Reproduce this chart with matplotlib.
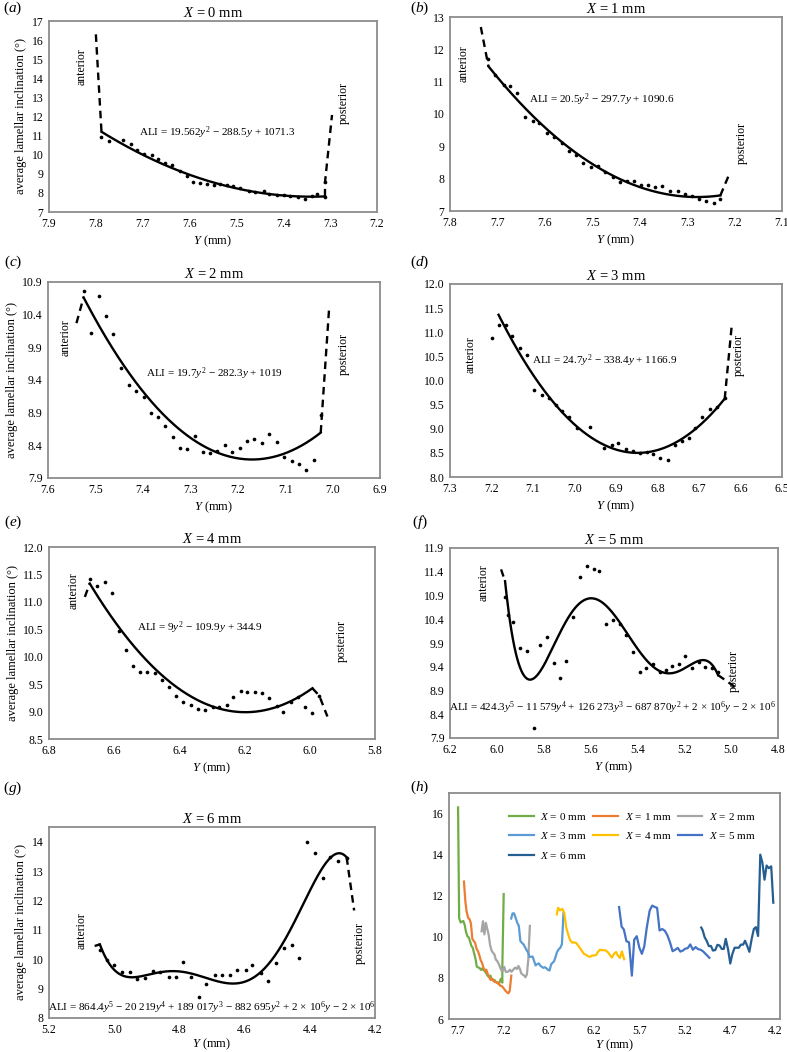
import numpy as np
import matplotlib
matplotlib.use("Agg")
import matplotlib.pyplot as plt
from matplotlib.ticker import FormatStrFormatter

plt.rcParams['font.family'] = ['Liberation Serif', 'DejaVu Serif']
plt.rcParams['mathtext.fontset'] = 'custom'
plt.rcParams['mathtext.rm'] = 'Liberation Serif'
plt.rcParams['mathtext.it'] = 'Liberation Serif:italic'

# ---- data: Y (mm) and average lamellar inclination (deg) ----
# X = 0 mm
Y0 = [7.788, 7.772, 7.742, 7.726, 7.713, 7.698, 7.681, 7.667, 7.653, 7.638, 7.621,
      7.606, 7.593, 7.578, 7.562, 7.547, 7.535, 7.521, 7.507, 7.492, 7.474, 7.460,
      7.442, 7.430, 7.414, 7.398, 7.385, 7.369, 7.353, 7.339, 7.327, 7.311]
A0 = [10.91, 10.70, 10.77, 10.57, 10.25, 10.04, 9.96, 9.77, 9.56, 9.47, 9.17,
      8.90, 8.55, 8.51, 8.48, 8.39, 8.46, 8.39, 8.34, 8.25, 8.11, 8.04,
      8.11, 7.96, 7.87, 7.90, 7.82, 7.78, 7.70, 7.82, 7.96, 7.77]
# X = 1 mm
Y1 = [7.719, 7.705, 7.687, 7.673, 7.658, 7.642, 7.626, 7.612, 7.596, 7.580, 7.564,
      7.550, 7.535, 7.519, 7.502, 7.488, 7.474, 7.457, 7.441, 7.427, 7.413, 7.397,
      7.383, 7.367, 7.353, 7.336, 7.319, 7.305, 7.290, 7.274, 7.260, 7.244, 7.230]
A1 = [11.70, 11.21, 10.90, 10.87, 10.64, 9.90, 9.79, 9.71, 9.42, 9.30, 9.09,
      8.86, 8.73, 8.49, 8.35, 8.40, 8.21, 8.06, 7.90, 7.93, 7.93, 7.80,
      7.80, 7.75, 7.78, 7.62, 7.61, 7.54, 7.46, 7.36, 7.30, 7.25, 7.36]
# X = 2 mm
Y2 = [7.525, 7.509, 7.493, 7.477, 7.462, 7.446, 7.430, 7.415, 7.398, 7.383, 7.368,
      7.353, 7.337, 7.321, 7.306, 7.290, 7.274, 7.258, 7.243, 7.226, 7.212, 7.196,
      7.181, 7.165, 7.149, 7.133, 7.118, 7.102, 7.086, 7.071, 7.056, 7.040, 7.025]
A2 = [10.76, 10.12, 10.68, 10.38, 10.10, 9.59, 9.33, 9.23, 9.14, 8.89, 8.83,
      8.70, 8.53, 8.36, 8.35, 8.54, 8.30, 8.29, 8.32, 8.40, 8.30, 8.36,
      8.46, 8.50, 8.43, 8.58, 8.45, 8.22, 8.16, 8.12, 8.03, 8.17, 8.87]
# X = 3 mm
Y3 = [7.183, 7.166, 7.150, 7.131, 7.114, 7.097, 7.079, 7.061, 7.045, 7.031,
      7.013, 6.995, 6.962, 6.929, 6.910, 6.894, 6.876, 6.860, 6.842, 6.826, 6.810,
      6.794, 6.775, 6.757, 6.741, 6.725, 6.709, 6.693, 6.673, 6.657, 6.638]
A3 = [11.14, 11.14, 10.93, 10.68, 10.53, 9.80, 9.70, 9.63, 9.49, 9.37,
      9.25, 9.02, 9.04, 8.61, 8.67, 8.71, 8.59, 8.54, 8.49, 8.52, 8.47,
      8.40, 8.36, 8.66, 8.74, 8.81, 9.01, 9.25, 9.40, 9.46, 9.64]
# X = 4 mm
Y4 = [6.675, 6.653, 6.629, 6.607, 6.586, 6.565, 6.542, 6.520, 6.498, 6.476, 6.453,
      6.432, 6.409, 6.389, 6.365, 6.342, 6.322, 6.298, 6.278, 6.255, 6.235, 6.212,
      6.192, 6.168, 6.146, 6.124, 6.102, 6.081, 6.058, 6.035, 6.015, 5.992]
A4 = [11.41, 11.29, 11.36, 11.16, 10.46, 10.13, 9.83, 9.72, 9.73, 9.70, 9.57,
      9.44, 9.29, 9.17, 9.12, 9.04, 9.03, 9.09, 9.09, 9.12, 9.27, 9.37,
      9.35, 9.35, 9.33, 9.24, 9.11, 8.99, 9.17, 9.26, 9.09, 8.97]
# X = 5 mm
Y5 = [5.965, 5.954, 5.929, 5.901, 5.872, 5.841, 5.815, 5.787, 5.758, 5.730, 5.704,
      5.676, 5.644, 5.616, 5.587, 5.562, 5.535, 5.505, 5.476, 5.448, 5.419, 5.391,
      5.362, 5.334, 5.305, 5.278, 5.253, 5.224, 5.196, 5.167, 5.138, 5.110, 5.082, 5.056]
A5 = [10.87, 10.50, 10.35, 9.79, 9.73, 8.11, 9.86, 10.03, 9.47, 9.17, 9.53,
      10.45, 11.28, 11.52, 11.45, 11.41, 10.31, 10.38, 10.29, 10.07, 9.72, 9.30,
      9.37, 9.46, 9.28, 9.33, 9.42, 9.45, 9.63, 9.37, 9.50, 9.40, 9.37, 9.30]
# X = 6 mm
Y6 = [5.044, 5.022, 5.000, 4.976, 4.952, 4.930, 4.904, 4.881, 4.858, 4.833, 4.811,
      4.789, 4.763, 4.739, 4.717, 4.691, 4.669, 4.645, 4.622, 4.597, 4.576, 4.550,
      4.528, 4.504, 4.479, 4.456, 4.432, 4.408, 4.384, 4.361, 4.338, 4.313, 4.287]
A6 = [10.32, 9.98, 9.81, 9.55, 9.55, 9.33, 9.36, 9.61, 9.58, 9.41, 9.41,
      9.90, 9.38, 8.70, 9.15, 9.47, 9.47, 9.47, 9.62, 9.62, 9.81, 9.53,
      9.27, 9.87, 10.38, 10.47, 10.04, 14.00, 13.60, 12.78, 13.47, 13.34, 13.43]

# points outside the trendline: dots before / after it and dashed end tips, (Y, ALI)
ant_pts = [[], [], [], [(7.198, 10.89)], [], [], []]
ant_tip = [(7.800, 16.30), (7.735, 12.69), (7.540, 10.27), None,
           (6.690, 11.09), (5.982, 11.45), (5.060, 10.45)]
post_pts = [[(7.311, 8.55)], [], [], [], [(5.971, 9.29)], [], []]
post_tip = [(7.296, 12.08), (7.212, 8.11), (7.007, 10.53), (6.621, 11.15),
            (5.946, 8.91), (4.985, 8.98), (4.264, 11.66)]

X_mm = [0, 1, 2, 3, 4, 5, 6]
fit_order = [2, 2, 2, 2, 2, 5, 5]
equations = [
    r"ALI = 19.562$y^2$ − 288.5$y$ + 1071.3",
    r"ALI = 20.5$y^2$ − 297.7$y$ + 1090.6",
    r"ALI = 19.7$y^2$ − 282.3$y$ + 1019",
    r"ALI = 24.7$y^2$ − 338.4$y$ + 1166.9",
    r"ALI = 9$y^2$ − 109.9$y$ + 344.9",
    r"ALI = 424.3$y^5$ − 11 579$y^4$ + 126 273$y^3$ − 687 870$y^2$ + 2 × 10$^6$$y$ − 2 × 10$^6$",
    r"ALI = 864.4$y^5$ − 20 219$y^4$ + 189 017$y^3$ − 882 695$y^2$ + 2 × 10$^6$$y$ − 2 × 10$^6$",
]
xticks = [np.arange(7.2, 7.95, 0.1), np.arange(7.1, 7.85, 0.1), np.arange(6.9, 7.65, 0.1),
          np.arange(6.5, 7.35, 0.1), np.arange(5.8, 6.85, 0.2), np.arange(4.8, 6.25, 0.2),
          np.arange(4.2, 5.25, 0.2)]
yticks = [np.arange(7, 17.5, 1), np.arange(7, 13.5, 1), np.arange(7.9, 10.95, 0.5),
          np.arange(8.0, 12.05, 0.5), np.arange(8.5, 12.05, 0.5), np.arange(7.9, 11.95, 0.5),
          np.arange(8, 14.5, 1)]
ylims = [(7, 17), (7, 13), (7.9, 10.9), (8, 12), (8.5, 12), (7.9, 11.9), (8, 14.5)]
y_fmt = ['%d', '%d', '%.1f', '%.1f', '%.1f', '%.1f', '%d']

# panel (h)
h_colors = ['#70AD47', '#ED7D31', '#A5A5A5', '#5B9BD5', '#FFC000', '#4472C4', '#255E91']
h_xticks = [7.7, 7.2, 6.7, 6.2, 5.7, 5.2, 4.7, 4.2]

# ---- layout (pixel boxes: left, top, right, bottom) ----
W, H = 787, 1052
boxes = [(49, 21, 377, 212), (450, 17, 782, 211), (48, 282, 380, 478),
         (450, 284, 782, 477), (49, 547, 375, 739), (450, 548, 778, 738),
         (49, 827, 375, 1018), (449, 793, 780, 1019)]
letters = ['a', 'b', 'c', 'd', 'e', 'f', 'g', 'h']
letter_pos = [(13, 8), (420, 8), (13, 262), (420, 262), (13, 522), (420, 522),
              (13, 788), (420, 787)]
ant_pos = [(0.099, 0.76), (0.04, 0.76), (0.052, 0.717), (0.063, 0.633),
           (0.076, 0.775), (0.102, 0.82), (0.099, 0.457)]
post_pos = [(0.898, 0.573), (0.879, 0.348), (0.892, 0.633), (0.869, 0.633),
            (0.898, 0.51), (0.865, 0.353), (0.954, 0.395)]
eq_pos = [(0.513, 0.416), (0.458, 0.572), (0.502, 0.534), (0.465, 0.603),
          (0.462, 0.58), (0.496, 0.157), (0.499, 0.056)]
h_shift = [-0.10, -0.10, -0.10, -0.085, -0.08, -0.06, -0.045]

data = [(Y0, A0), (Y1, A1), (Y2, A2), (Y3, A3), (Y4, A4), (Y5, A5), (Y6, A6)]

fig = plt.figure(figsize=(W / 100, H / 100), dpi=100)


def make_axes(box):
    l, t, r, b = box
    ax = fig.add_axes([l / W, 1 - b / H, (r - l) / W, (b - t) / H])
    for s in ax.spines.values():
        s.set_color('#8c8c8c')
        s.set_linewidth(1.3)
    ax.tick_params(length=0, labelsize=8.5, pad=4)
    return ax


dash = (0, (3.2, 2.2))
for k, (Y, A) in enumerate(data):
    ax = make_axes(boxes[k])
    Y = np.array(Y)
    A = np.array(A)
    p = np.polynomial.Polynomial.fit(Y, A, fit_order[k])
    yy = np.linspace(Y.min(), Y.max(), 300)
    ax.plot(yy, p(yy), color='black', lw=1.7, zorder=2)
    extra = ant_pts[k] + post_pts[k]
    ax.scatter(list(Y) + [t[0] for t in extra], list(A) + [t[1] for t in extra],
               s=7, color='black', zorder=3, linewidths=0)

    if ant_tip[k] is not None:
        head = [ant_tip[k]] + ant_pts[k] + [(Y[0], p(Y[0]))]
        ax.plot([t[0] for t in head], [t[1] for t in head], color='black',
                lw=1.7, ls=dash)
    tail = [(Y[-1], p(Y[-1]))] + post_pts[k] + [post_tip[k]]
    ax.plot([t[0] for t in tail], [t[1] for t in tail], color='black', lw=1.7, ls=dash)

    xt = xticks[k]
    ax.set_xlim(xt.max(), xt.min())
    ax.set_xticks(xt)
    ax.xaxis.set_major_formatter(FormatStrFormatter('%.1f'))
    ax.set_ylim(*ylims[k])
    ax.set_yticks(yticks[k])
    ax.yaxis.set_major_formatter(FormatStrFormatter(y_fmt[k]))
    ax.set_xlabel(r"$Y$ (mm)", fontsize=9, labelpad=1 if k == 6 else 3)
    if k % 2 == 0:
        ax.set_ylabel("average lamellar inclination (°)", fontsize=9, labelpad=3)
    ax.set_title(r"$X$ = %d mm" % X_mm[k], fontsize=10.5, pad=3)

    ax.text(*ant_pos[k], "anterior", rotation=90, transform=ax.transAxes,
            ha='center', va='center', fontsize=8.5)
    ax.text(*post_pos[k], "posterior", rotation=90, transform=ax.transAxes,
            ha='center', va='center', fontsize=8.5)
    ax.text(*eq_pos[k], equations[k], transform=ax.transAxes, ha='center',
            va='center', fontsize=8)

# panel (h): all sections together
ax = make_axes(boxes[7])
lines = []
for k, (Y, A) in enumerate(data):
    pts = [ant_tip[k]] if ant_tip[k] is not None else []
    pts = pts + ant_pts[k] + list(zip(Y, A)) + post_pts[k] + [post_tip[k]]
    xs = np.array([t[0] for t in pts]) + h_shift[k]
    ys = [t[1] for t in pts]
    ln, = ax.plot(xs, ys, color=h_colors[k], lw=1.6, label=r"$X$ = %d mm" % X_mm[k])
    lines.append(ln)
ax.set_xlim(7.80, 4.145)
ax.set_xticks(h_xticks)
ax.xaxis.set_major_formatter(FormatStrFormatter('%.1f'))
ax.set_ylim(6, 17)
ax.set_yticks([6, 8, 10, 12, 14, 16])
ax.set_xlabel(r"$Y$ (mm)", fontsize=9, labelpad=1)
order = [0, 3, 6, 1, 4, 2, 5]
ax.legend([lines[i] for i in order], [lines[i].get_label() for i in order],
          ncol=3, loc='upper left', bbox_to_anchor=(0.155, 0.96), frameon=False,
          fontsize=8, handlelength=2.2, columnspacing=0.6, handletextpad=0.6,
          labelspacing=0.75, borderpad=0.3)

for lt, (px, py) in zip(letters, letter_pos):
    fig.text(px / W, 1 - py / H, r"($%s$)" % lt, ha='center', va='center', fontsize=11)

fig.savefig("out.png", dpi=100)
